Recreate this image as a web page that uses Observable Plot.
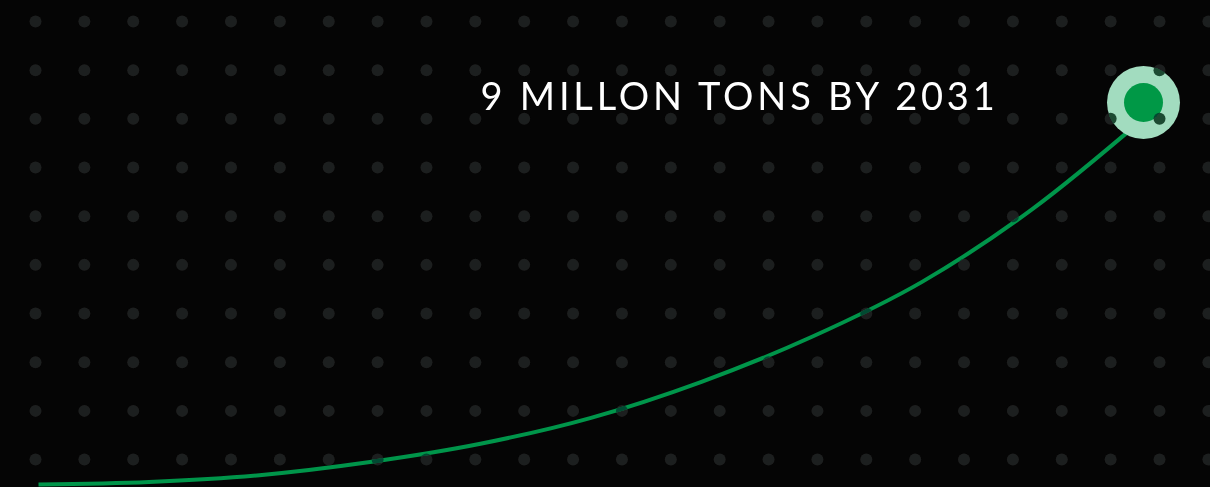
<!DOCTYPE html>
<html>
<head>
<meta charset="utf-8">
<script src="https://cdn.jsdelivr.net/npm/d3@7"></script>
<script src="https://cdn.jsdelivr.net/npm/@observablehq/plot@0.6"></script>
<style>
  html, body { margin: 0; padding: 0; background: #050505; }
  #chart svg { display: block; }
  #chart text { letter-spacing: 3.8px; }
</style>
</head>
<body>
<div id="chart"></div>
<script>
// Data (million tons per year)
const years = [2021, 2022, 2023, 2024, 2025, 2026, 2027, 2028, 2029, 2030, 2031];
const tons  = [0, 0.06, 0.22, 0.53, 0.96, 1.57, 2.42, 3.48, 4.78, 6.50, 8.62];
const target = {year: 2031, tons: 9};
const label = "9 MILLON TONS BY 2031";

const series = years.map((y, i) => ({year: y, tons: tons[i]}));

// decorative dot grid expressed in data units
const gridCols = d3.range(25).map(i => 2020.9729 + i * 0.44226);
const gridRows = d3.range(10).map(j => 10.908 - j * 1.14669);
const grid = d3.cross(gridCols, gridRows).map(([x, y]) => ({x, y}));

const GREEN = "#00954a";

const chart = Plot.plot({
  width: 1210,
  height: 487,
  marginLeft: 38,
  marginRight: 67,
  marginTop: 102,
  marginBottom: 3,
  x: {domain: [2021, 2031], axis: null},
  y: {domain: [0, 9], axis: null},
  style: {background: "#050505", color: "white", overflow: "visible"},
  marks: [
    Plot.dot(grid, {x: "x", y: "y", r: 6, fill: "#1f1f1f"}),
    Plot.line(series, {x: "year", y: "tons", stroke: GREEN, strokeWidth: 4, curve: "monotone-x", strokeLinecap: "butt"}),
    Plot.dot([target], {x: "year", y: "tons", r: 36.5, fill: "#a2dcbf"}),
    Plot.dot([target], {x: "year", y: "tons", r: 19.5, fill: "#009846"}),
    Plot.dot(grid, {x: "x", y: "y", r: 6, fill: "#1c4a32", mixBlendMode: "darken"}),
    Plot.text([target], {x: "year", y: "tons", text: () => label, textAnchor: "end", dx: -145, dy: -5,
      fontSize: 38, fontFamily: "Lato", fontWeight: 400, fill: "white"})
  ]
});
document.getElementById("chart").appendChild(chart);
</script>
</body>
</html>
